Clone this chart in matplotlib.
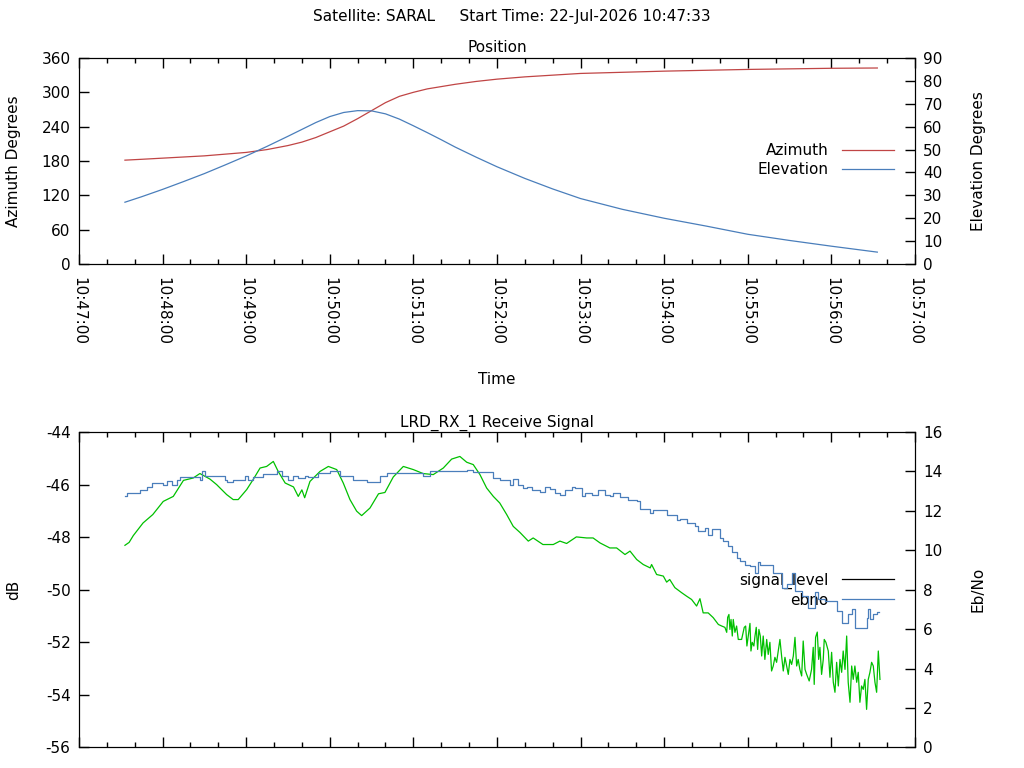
import matplotlib
matplotlib.use("Agg")
import matplotlib.pyplot as plt
from matplotlib.lines import Line2D
from matplotlib.ticker import MultipleLocator, FuncFormatter

# seconds after 10:47:00
pos_time = [33, 45, 60, 75, 90, 105, 120, 135, 150, 160, 170, 180, 190, 200, 210,
            220, 230, 240, 250, 260, 270, 285, 300, 320, 340, 360, 390, 420, 450,
            480, 510, 540, 573]
azimuth = [181.5, 183, 185, 187, 189, 192, 195, 200, 207, 213, 221, 231, 241, 254,
           268, 282, 293, 300, 306, 310, 314, 319, 323, 327, 330, 333, 335, 337,
           338.5, 340, 341, 342, 342.5]
elevation = [27, 29.4, 32.6, 36, 39.5, 43.3, 47.2, 51.4, 55.8, 58.8, 61.8, 64.4,
             66.2, 67.0, 66.9, 65.6, 63.3, 60.4, 57.4, 54.3, 51.1, 46.7, 42.5, 37.4,
             32.8, 28.6, 23.9, 20.0, 16.6, 13.0, 10.3, 7.8, 5.2]

sig_time = [33, 36, 39, 46, 53, 60.5, 67.7, 75, 82, 86.8, 94, 98.8, 106, 110.7, 114.3,
            120.4, 125, 130, 134.7, 139.5, 143, 148, 154, 157.4, 160, 162, 165.8, 173,
            179, 185, 189.7, 194.5, 199.3, 202.9, 208.9, 215, 219.6, 225.6, 232.8, 240,
            247, 254.3, 261.5, 267.5, 273.4, 278.3, 283, 287.8, 292.6, 297.4, 302, 307,
            311.7, 316.5, 322.5, 326, 333, 340.4, 345.2, 350, 357, 364.4, 369, 374, 381,
            385.9, 391.9, 395.5, 400.3, 405, 410, 411, 414.6, 419.4, 421.8, 424, 427.7,
            432.5, 436, 439.7, 443.3, 445.7, 448, 451.6, 455.2, 458.9, 461.3, 463.6,
            464.9, 465.6, 466.5, 467.2, 468, 468.9, 469.6, 470.8, 472, 473.2, 475.6,
            477.5, 478.5, 479.4, 480.4, 481.6, 482.3, 483.2, 484.4, 485.2, 486.1, 487.1,
            488, 489, 490, 491.1, 492.3, 493.6, 494.7, 495.9, 497.1, 498.3, 499.5, 500.7,
            501.9, 503.1, 504.3, 505.5, 506.7, 507.9, 509.1, 510.3, 511.5, 512.7, 513.9,
            515.1, 516.2, 517.4, 518.7, 519.8, 521.1, 522.3, 524.1, 525.8, 527, 527.7,
            528.7, 529.9, 530.9, 531.8, 533, 534.2, 534.9, 536.1, 537.8, 539, 540.2,
            541.4, 542.6, 543.8, 545, 546.2, 547.4, 548.5, 549.8, 551, 552.1, 553.4,
            554.6, 555.7, 556.9, 558.2, 559.3, 560.5, 561.7, 562.9, 564.1, 565.3, 566.5,
            567.7, 568.9, 570.1, 571.3, 572.5, 573.7, 574.9]
signal_level = [-48.31, -48.2, -47.94, -47.46, -47.14, -46.64, -46.45, -45.84, -45.75,
                -45.58, -45.79, -46.0, -46.38, -46.57, -46.57, -46.19, -45.81, -45.37,
                -45.31, -45.12, -45.5, -45.94, -46.09, -46.45, -46.2, -46.5, -45.88,
                -45.5, -45.31, -45.43, -45.94, -46.57, -47.01, -47.18, -46.89, -46.35,
                -46.3, -45.71, -45.31, -45.43, -45.58, -45.62, -45.37, -45.03, -44.93,
                -45.15, -45.24, -45.62, -46.13, -46.45, -46.7, -47.14, -47.59, -47.82,
                -48.15, -48.03, -48.28, -48.28, -48.15, -48.24, -47.99, -48.03, -48.03,
                -48.22, -48.41, -48.41, -48.66, -48.53, -48.85, -49.04, -49.17, -49.04,
                -49.42, -49.48, -49.71, -49.61, -49.92, -50.11, -50.24, -50.37, -50.62,
                -50.34, -50.88, -50.88, -51.06, -51.32, -51.38, -51.43, -51.62, -51.05,
                -50.94, -51.51, -51.13, -51.76, -51.13, -51.62, -51.38, -51.89, -51.89,
                -51.43, -51.38, -52.14, -51.76, -51.28, -52.33, -52.0, -52.14, -51.76,
                -51.43, -52.27, -51.51, -51.76, -52.52, -51.76, -52.65, -51.89, -52.46,
                -52.0, -53.09, -52.9, -52.57, -52.76, -52.33, -51.89, -52.52, -53.09,
                -52.57, -52.9, -53.22, -52.65, -52.84, -52.52, -51.81, -52.9, -52.65,
                -53.03, -53.28, -51.95, -53.03, -53.22, -53.47, -53.03, -52.19, -53.6,
                -51.81, -51.61, -52.65, -52.19, -53.22, -52.65, -51.89, -52.0, -52.33,
                -53.33, -52.38, -53.52, -53.9, -52.76, -53.66, -52.65, -53.14, -52.33,
                -53.03, -51.76, -53.52, -54.28, -52.9, -53.41, -52.9, -53.52, -53.14,
                -54.28, -53.66, -53.79, -53.41, -54.55, -53.41, -53.14, -52.76, -52.9,
                -53.52, -53.9, -52.33, -53.41]

ebno_time = [33.0, 34.2, 43.8, 48.6, 52.2, 60.5, 62.9, 66.5, 70.1, 72.5, 86.8, 88.1,
             90.4, 104.8, 106, 110.7, 119.1, 121.5, 125.1, 132.3, 141.9, 145.5, 150.2,
             153.8, 157.4, 162.2, 164.6, 171.7, 180.1, 187.3, 196.9, 206.5, 216, 220.8,
             247.1, 251.9, 278.3, 283, 297.4, 302.2, 309.3, 311.7, 315.3, 318.9, 321.3,
             324.9, 330.9, 334.4, 338, 341.6, 345.2, 348.8, 353.6, 356, 360.8, 363.2,
             368, 372.7, 377.5, 381.1, 383.5, 388.3, 394.2, 400.3, 402.6, 409.8, 412.2,
             421.8, 429, 431.3, 436.1, 442.1, 444.5, 449.3, 451.6, 454.1, 460, 462.4,
             466, 468.4, 472, 474.4, 478, 481.6, 485.2, 487.5, 488.7, 498.3, 504.3,
             507.9, 511.5, 513.9, 518.7, 523.4, 528.2, 530.6, 535.4, 543.8, 547.4,
             552.1, 554.6, 556.9, 565.3, 566.5, 567.7, 570.1, 572.5, 574.2]
ebno = [12.74, 12.91, 13.04, 13.22, 13.42, 13.33, 13.5, 13.33, 13.58, 13.72, 13.58,
        14.0, 13.75, 13.58, 13.45, 13.58, 13.75, 13.58, 13.72, 13.89, 14.0, 13.75,
        13.55, 13.75, 13.67, 13.78, 13.72, 13.92, 14.0, 13.78, 13.58, 13.45, 13.78,
        13.92, 13.75, 14.0, 14.09, 13.95, 13.67, 13.58, 13.33, 13.62, 13.33, 13.16,
        13.22, 13.04, 12.94, 13.22, 13.1, 12.91, 12.83, 13.04, 13.22, 13.16, 12.74,
        12.91, 12.83, 13.04, 12.83, 12.74, 12.91, 12.71, 12.57, 12.49, 12.1, 11.9,
        12.02, 11.81, 11.52, 11.6, 11.39, 11.22, 11.0, 11.15, 10.8, 11.1, 10.63,
        10.46, 10.21, 9.9, 9.62, 9.45, 9.28, 9.19, 8.86, 9.4, 9.23, 8.86, 8.1, 8.27,
        8.86, 7.93, 7.68, 7.09, 7.88, 7.54, 7.42, 6.92, 6.29, 6.75, 7.0, 6.08, 6.58,
        7.0, 6.5, 6.75, 6.89, 6.89]

RED = "#c04545"
BLUE = "#4a7ebb"
GREEN = "#00c000"
FS = 11

plt.rcParams["font.family"] = ["DejaVu Sans"]
plt.rcParams["font.size"] = FS
plt.rcParams["axes.unicode_minus"] = False


def fmt_time(x, pos):
    s = int(round(x))
    return "10:%02d:%02d" % (47 + s // 60, s % 60)


def style_time_axis(ax, labels=True):
    ax.set_xlim(0, 600)
    ax.xaxis.set_major_locator(MultipleLocator(60))
    ax.xaxis.set_minor_locator(MultipleLocator(20))
    ax.tick_params(axis="x", which="both", direction="in", top=True, bottom=True)
    ax.tick_params(axis="x", which="major", length=7, width=1, pad=9)
    ax.tick_params(axis="x", which="minor", length=3.5, width=1)
    if labels:
        ax.xaxis.set_major_formatter(FuncFormatter(fmt_time))
        plt.setp(ax.get_xticklabels(), rotation=-90, va="top", ha="center")
    else:
        ax.set_xticklabels([])


fig = plt.figure(figsize=(10.24, 7.68), dpi=100)
fig.text(0.5, 0.978, "Satellite: SARAL     Start Time: 22-Jul-2026 10:47:33",
         ha="center", va="center", fontsize=FS)

# Position panel
ax1 = fig.add_axes([0.0771, 0.6562, 0.8164, 0.2683])
ax1b = ax1.twinx()
ax1.plot(pos_time, azimuth, color=RED, lw=0.9)
ax1b.plot(pos_time, elevation, color=BLUE, lw=0.9)
ax1.set_ylim(0, 360)
ax1.set_yticks(range(0, 361, 60))
ax1b.set_ylim(0, 90)
ax1b.set_yticks(range(0, 91, 10))
ax1.tick_params(axis="y", direction="in", length=7, width=1, pad=6)
ax1b.tick_params(axis="y", direction="in", length=7, width=1, pad=6)
style_time_axis(ax1)
ax1.set_title("Position", fontsize=FS, pad=4)
ax1.set_ylabel("Azimuth Degrees")
ax1b.set_ylabel("Elevation Degrees")
ax1.yaxis.set_label_coords(-0.0694, 0.5)
ax1b.yaxis.set_label_coords(1.067, 0.5)
ax1.set_xlabel("Time", labelpad=20)
handles1 = [Line2D([], [], color=RED, lw=0.9), Line2D([], [], color=BLUE, lw=0.9)]
ax1.legend(handles1, ["Azimuth", "Elevation"], loc="center right",
           bbox_to_anchor=(0.991, 0.505), frameon=False, markerfirst=False,
           handlelength=3.4, handletextpad=0.85, labelspacing=0.25, fontsize=FS)

# Receive signal panel
ax2 = fig.add_axes([0.0771, 0.0267, 0.8164, 0.4108])
ax2b = ax2.twinx()
ax2.plot(sig_time, signal_level, color=GREEN, lw=0.9)
ax2b.plot(ebno_time, ebno, color=BLUE, lw=0.9, drawstyle="steps-post")
ax2.set_ylim(-56, -44)
ax2.set_yticks(range(-56, -43, 2))
ax2b.set_ylim(0, 16)
ax2b.set_yticks(range(0, 17, 2))
ax2.tick_params(axis="y", direction="in", length=7, width=1, pad=6)
ax2b.tick_params(axis="y", direction="in", length=7, width=1, pad=6)
style_time_axis(ax2, labels=False)
ax2.set_title("LRD_RX_1 Receive Signal", fontsize=FS, pad=4)
ax2.set_ylabel("dB")
ax2b.set_ylabel("Eb/No")
ax2.yaxis.set_label_coords(-0.0694, 0.5)
ax2b.yaxis.set_label_coords(1.067, 0.5)
handles2 = [Line2D([], [], color="black", lw=0.9), Line2D([], [], color=BLUE, lw=0.9)]
ax2.legend(handles2, ["signal_level", "ebno"], loc="center right",
           bbox_to_anchor=(0.991, 0.499), frameon=False, markerfirst=False,
           handlelength=3.4, handletextpad=0.85, labelspacing=0.25, fontsize=FS)

fig.savefig("out.png", dpi=100)
